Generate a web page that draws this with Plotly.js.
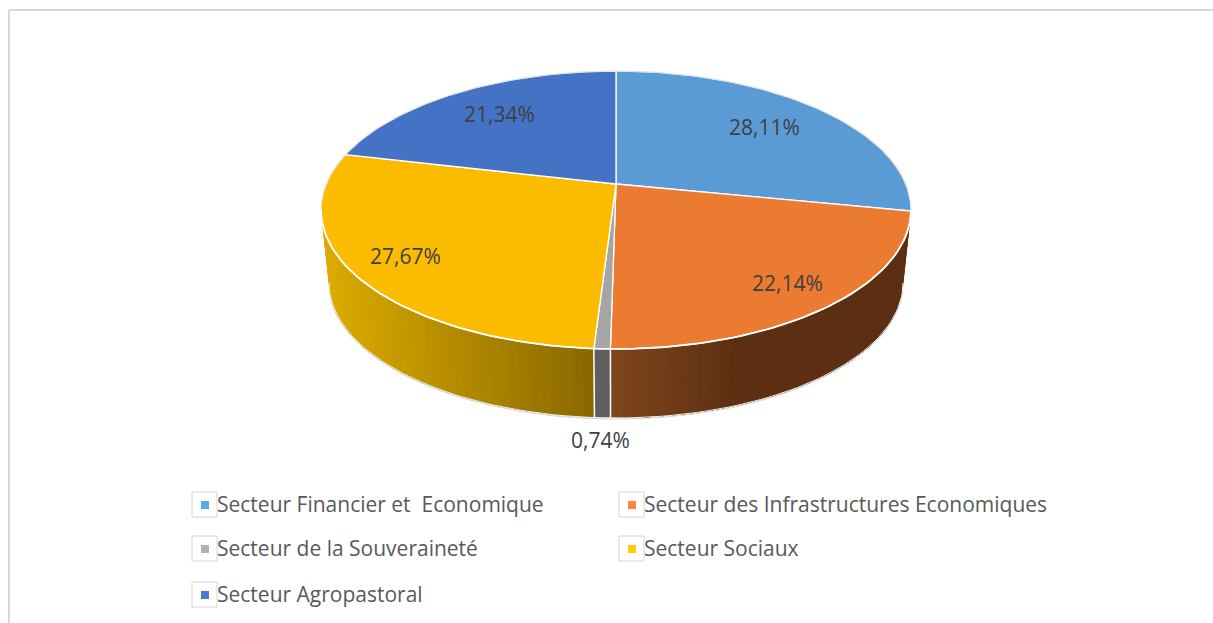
<!DOCTYPE html>
<html>
<head>
<meta charset="utf-8">
<script src="https://cdn.plot.ly/plotly-3.0.1.min.js"></script>
<style>html,body{margin:0;padding:0;background:#fff;overflow:hidden}#chart{width:1213px;height:623px}</style>
</head>
<body>
<div id="chart"></div>
<script>
// --- data ---
const categories = ['Secteur Financier et \u00a0Economique', 'Secteur des Infrastructures Economiques', 'Secteur de la Souveraineté', 'Secteur Sociaux', 'Secteur Agropastoral'];
const values = [28.11, 22.14, 0.74, 27.67, 21.34];

// --- styles ---
const topColors = ['#5B9BD5', '#EB7B31', '#A5A5A5', '#FBBC00', '#4472C4'];
const swatchColors = ['#5BA8E8', '#FF8636', '#B2B2B2', '#FFCC00', '#4C78D8'];
const sideLeft = { 1: [128, 70, 28], 2: [95, 95, 95], 3: [220, 172, 0] };
const sideRight = { 1: [92, 47, 18], 2: [95, 95, 95], 3: [138, 104, 0] };
const labelPos = [[764, 127], [787, 283], [600, 440], [405, 256], [499, 114]];
const legendPos = [[192, 492], [619, 492], [192, 536], [619, 536], [192, 582]];

// --- perspective disc geometry (plot coordinates, axes hold 1213x623) ---
const cx = 616, cy = 184, a = 289.8, b = 134.1, p = 0.187;
const depthScale = 0.973, depthCy = 257.5;
function rim(deg) {
  const t = deg * Math.PI / 180, u = Math.sin(t), v = Math.cos(t), w = 1 + p * v;
  return [cx + a * u / w, cy - b * v / w];
}
function rimLow(deg) {
  const q = rim(deg);
  return [cx + (q[0] - cx) * depthScale, depthCy + (q[1] - cy) * depthScale];
}
function arc(fn, d0, d1) {
  const n = Math.max(2, Math.ceil(Math.abs(d1 - d0) / 1.5)), out = [];
  for (let i = 0; i <= n; i++) out.push(fn(d0 + (d1 - d0) * i / n));
  return out;
}
const bounds = [0];
values.forEach(v => bounds.push(bounds[bounds.length - 1] + v * 3.6));

const traces = [];
function poly(pts, fill, line, width) {
  traces.push({
    x: pts.map(q => q[0]), y: pts.map(q => q[1]), type: 'scatter', mode: 'lines',
    fill: 'toself', fillcolor: fill,
    line: { color: line || fill, width: width === undefined ? 0 : width },
    hoverinfo: 'skip', showlegend: false
  });
}
function stroke(pts, color, width) {
  traces.push({
    x: pts.map(q => q[0]), y: pts.map(q => q[1]), type: 'scatter', mode: 'lines',
    line: { color: color, width: width }, hoverinfo: 'skip', showlegend: false
  });
}

// hairline silhouette of the lower rim
stroke(arc(rimLow, 100.8, 259.2).map(q => [q[0], q[1] + 1]), '#d2d2d2', 1);

// side wall: each strip runs on to the end of its sector, so no gap can show between strips
[1, 2, 3].forEach(idx => {
  const d0 = bounds[idx], d1 = Math.min(bounds[idx + 1], 262);
  const n = idx === 2 ? 1 : 44;
  const x0 = idx === 1 ? 610 : idx === 3 ? 329 : 594;
  const x1 = idx === 1 ? 735 : idx === 3 ? 594 : 610;
  for (let i = 0; i < n; i++) {
    const s0 = d0 + (d1 - d0) * i / n, s1 = d0 + (d1 - d0) * (i + 1) / n;
    const mid = rimLow((s0 + s1) / 2)[0];
    const f = Math.max(0, Math.min(1, (mid - x0) / (x1 - x0)));
    const l = sideLeft[idx], r = sideRight[idx];
    const c = 'rgb(' + [0, 1, 2].map(k => Math.round(l[k] + (r[k] - l[k]) * f)).join(',') + ')';
    poly(arc(rim, s0, d1).concat(arc(rimLow, d1, s0)), c);
  }
});

// white edges on the wall
[bounds[2], bounds[3]].forEach(d => stroke([rim(d), rimLow(d)], '#ffffff', 1.5));
stroke(arc(rimLow, 100.8, 259.2), '#f4f4f4', 1);

// top face
values.forEach((v, i) => {
  const pts = [[cx, cy]].concat(arc(rim, bounds[i], bounds[i + 1]));
  pts.push([cx, cy]);
  poly(pts, topColors[i], '#ffffff', 1.3);
});
stroke(arc(rim, 259.2, 460.8), '#d4d4d4', 0.8);
stroke(arc(rim, 100.8, 259.2), '#ffffff', 1.8);

// legend swatches
traces.push({
  x: legendPos.map(q => q[0] + 13), y: legendPos.map(q => q[1] + 13), type: 'scatter', mode: 'markers',
  marker: { symbol: 'square', size: 8, color: swatchColors, line: { width: 0 } },
  hoverinfo: 'skip', showlegend: false
});

const annotations = [];
values.forEach((v, i) => annotations.push({
  x: labelPos[i][0], y: labelPos[i][1], xref: 'x', yref: 'y', showarrow: false,
  text: v.toFixed(2).replace('.', ',') + '%',
  font: { family: 'Open Sans', size: 21, color: '#404040' }, xanchor: 'center', yanchor: 'middle'
}));
categories.forEach((c, i) => annotations.push({
  x: legendPos[i][0] + 23, y: legendPos[i][1] + 12, xref: 'x', yref: 'y', showarrow: false,
  text: c, font: { family: 'Open Sans', size: 21, color: '#595959' }, xanchor: 'left', yanchor: 'middle'
}));

const shapes = [
  { type: 'line', xref: 'x', yref: 'y', x0: 9, y0: 10, x1: 1213, y1: 10, line: { color: '#d9d9d9', width: 2 } },
  { type: 'line', xref: 'x', yref: 'y', x0: 9, y0: 10, x1: 9, y1: 623, line: { color: '#d9d9d9', width: 2 } }
];
legendPos.forEach(q => shapes.push({
  type: 'rect', xref: 'x', yref: 'y', x0: q[0], y0: q[1], x1: q[0] + 25, y1: q[1] + 25,
  line: { color: '#d4d4d4', width: 1 }, fillcolor: '#ffffff', layer: 'below'
}));

Plotly.newPlot('chart', traces, {
  width: 1213, height: 623, margin: { l: 0, r: 0, t: 0, b: 0 },
  paper_bgcolor: '#ffffff', plot_bgcolor: '#ffffff', showlegend: false,
  xaxis: { range: [0, 1213], visible: false, fixedrange: true },
  yaxis: { range: [623, 0], visible: false, fixedrange: true },
  shapes: shapes, annotations: annotations
}, { displayModeBar: false, staticPlot: true });
</script>
</body>
</html>
